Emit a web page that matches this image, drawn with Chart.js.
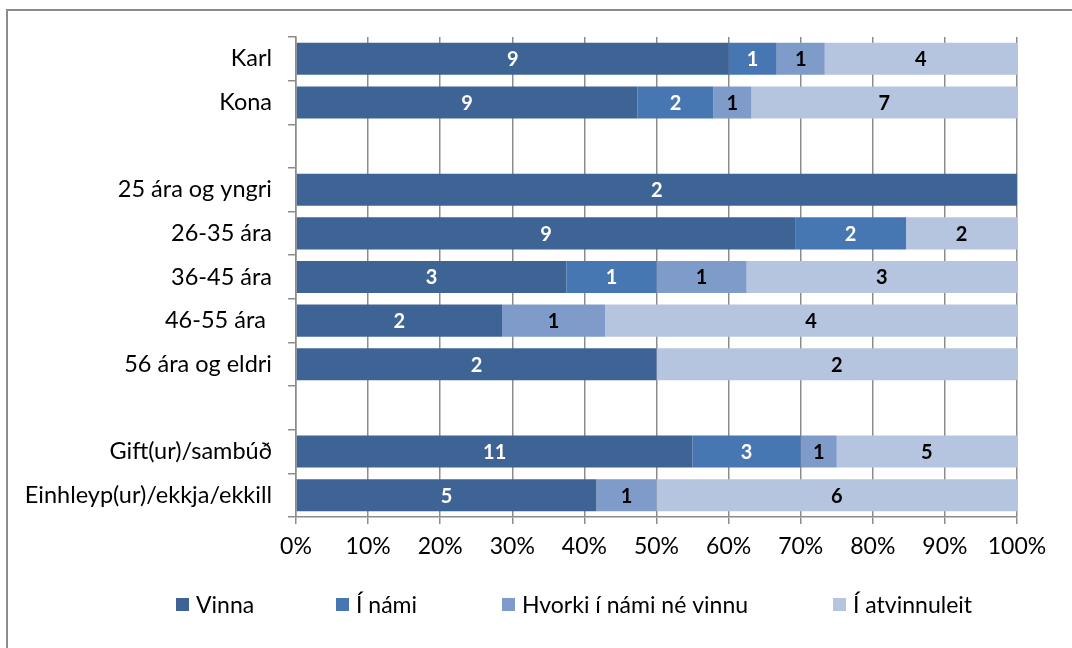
<!DOCTYPE html>
<html>
<head>
<meta charset="utf-8">
<script src="https://cdn.jsdelivr.net/npm/chart.js@4/dist/chart.umd.min.js"></script>
<style>
  html, body { margin: 0; padding: 0; background: #fff; }
  #wrap { width: 1072px; height: 648px; position: relative; }
</style>
</head>
<body>
<div id="wrap"><canvas id="c" width="1072" height="648"></canvas></div>
<script>
// ---- Data ----
const categories = ["Karl", "Kona", "", "25 ára og yngri", "26-35 ára", "36-45 ára", "46-55 ára ", "56 ára og eldri", "", "Gift(ur)/sambúð", "Einhleyp(ur)/ekkja/ekkill"];
const seriesNames = ["Vinna", "Í námi", "Hvorki í námi né vinnu", "Í atvinnuleit"];
const vinna      = [9, 9, 0, 2, 9, 3, 2, 2, 0, 11, 5];
const iNami      = [1, 2, 0, 0, 2, 1, 0, 0, 0, 3, 0];
const hvorki     = [1, 1, 0, 0, 0, 1, 1, 0, 0, 1, 1];
const atvinnuleit= [4, 7, 0, 0, 2, 3, 4, 2, 0, 5, 6];
const xTicks = [0, 10, 20, 30, 40, 50, 60, 70, 80, 90, 100];

const colors = ["#3E6496", "#4677B2", "#7E9BC9", "#B5C4DF"];
const labelColors = ["#ffffff", "#ffffff", "#000000", "#000000"];
const FONT = "Lato, 'Open Sans', sans-serif";
const GRID = "#8c8c8c";

const counts = [vinna, iNami, hvorki, atvinnuleit];
const totals = categories.map((_, i) => counts.reduce((s, a) => s + a[i], 0));
const pct = counts.map(arr => arr.map((v, i) => totals[i] ? v / totals[i] * 100 : 0));

const datasets = seriesNames.map((name, k) => ({
  label: name,
  data: pct[k],
  counts: counts[k],
  backgroundColor: colors[k],
  borderWidth: 0,
  barPercentage: 0.735,
  categoryPercentage: 1.0
}));

const frame = {
  id: 'frame',
  beforeDraw(chart) {
    const ctx = chart.ctx;
    ctx.save();
    ctx.fillStyle = '#fff';
    ctx.fillRect(0, 0, chart.width, chart.height);
    ctx.strokeStyle = '#8c8c8c';
    ctx.lineWidth = 2;
    ctx.beginPath();
    ctx.moveTo(7, chart.height);
    ctx.lineTo(7, 10);
    ctx.lineTo(chart.width, 10);
    ctx.stroke();
    ctx.restore();
  }
};

const valueLabels = {
  id: 'valueLabels',
  afterDatasetsDraw(chart) {
    const ctx = chart.ctx;
    ctx.save();
    ctx.font = "bold 20px " + FONT;
    ctx.textAlign = 'center';
    ctx.textBaseline = 'middle';
    chart.data.datasets.forEach((ds, k) => {
      const meta = chart.getDatasetMeta(k);
      meta.data.forEach((el, i) => {
        const v = ds.counts[i];
        if (!v) return;
        ctx.fillStyle = labelColors[k];
        ctx.fillText(String(v), (el.x + el.base) / 2, el.y + 1);
      });
    });
    ctx.restore();
  }
};

const legendX = [176, 336, 502, 833];
const customLegend = {
  id: 'customLegend',
  afterDraw(chart) {
    const ctx = chart.ctx;
    ctx.save();
    ctx.font = "23px " + FONT;
    ctx.textBaseline = 'middle';
    ctx.textAlign = 'left';
    const y = 604.5;
    seriesNames.forEach((name, k) => {
      ctx.fillStyle = colors[k];
      ctx.fillRect(legendX[k], y - 6.5, 13, 13);
      ctx.fillStyle = '#000';
      ctx.fillText(name, legendX[k] + 20, y + 1);
    });
    ctx.restore();
  }
};

new Chart(document.getElementById('c'), {
  type: 'bar',
  data: { labels: categories, datasets },
  options: {
    indexAxis: 'y',
    responsive: false,
    animation: false,
    layout: { padding: { left: 0, right: 55, top: 37, bottom: 88 } },
    plugins: {
      legend: { display: false },
      tooltip: { enabled: false }
    },
    scales: {
      x: {
        stacked: true,
        min: 0, max: 100,
        afterBuildTicks(scale) { scale.ticks = xTicks.map(v => ({ value: v })); },
        afterFit(scale) { scale.height = 43; },
        ticks: {
          callback: v => v + '%',
          color: '#000',
          font: { family: FONT, size: 23 },
          padding: 9,
          maxRotation: 0,
          autoSkip: false
        },
        grid: {
          color: GRID,
          lineWidth: 1.5,
          tickLength: 7,
          drawTicks: true
        },
        border: { color: GRID, width: 1.5 }
      },
      y: {
        stacked: true,
        afterFit(scale) { scale.width = 296; },
        ticks: {
          color: '#000',
          font: { family: FONT, size: 23.5 },
          padding: 16,
          autoSkip: false
        },
        grid: {
          drawOnChartArea: false,
          drawTicks: true,
          tickLength: 8,
          lineWidth: 1.5,
          color: GRID,
          offset: true
        },
        border: { color: GRID, width: 1.5 }
      }
    }
  },
  plugins: [frame, valueLabels, customLegend]
});
</script>
</body>
</html>
